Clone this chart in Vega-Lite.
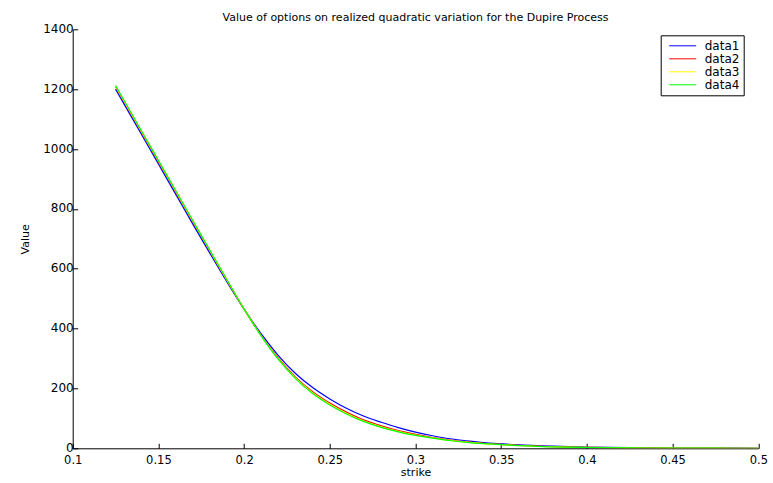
{
  "$schema": "https://vega.github.io/schema/vega-lite/v6.json",
  "width": 685.6,
  "height": 419,
  "autosize": {"type": "none"},
  "padding": {"left": 72.7, "top": 29.3, "right": 14.7, "bottom": 34.7},
  "background": "white",
  "title": {
    "text": "Value of options on realized quadratic variation for the Dupire Process",
    "font": "DejaVu Sans",
    "fontSize": 11,
    "fontWeight": "normal",
    "color": "black",
    "anchor": "middle",
    "frame": "group",
    "baseline": "bottom",
    "offset": 7,
    "dy": 19
  },
  "datasets": {
    "curves": [
      {"series": "data1", "strike": 0.125, "value": 1200},
      {"series": "data1", "strike": 0.13, "value": 1150},
      {"series": "data1", "strike": 0.14, "value": 1050},
      {"series": "data1", "strike": 0.15, "value": 950},
      {"series": "data1", "strike": 0.16, "value": 850},
      {"series": "data1", "strike": 0.17, "value": 750},
      {"series": "data1", "strike": 0.18, "value": 652},
      {"series": "data1", "strike": 0.19, "value": 556},
      {"series": "data1", "strike": 0.2, "value": 465},
      {"series": "data1", "strike": 0.21, "value": 382},
      {"series": "data1", "strike": 0.22, "value": 310},
      {"series": "data1", "strike": 0.23, "value": 250},
      {"series": "data1", "strike": 0.24, "value": 203},
      {"series": "data1", "strike": 0.25, "value": 165},
      {"series": "data1", "strike": 0.26, "value": 133},
      {"series": "data1", "strike": 0.27, "value": 107},
      {"series": "data1", "strike": 0.28, "value": 87},
      {"series": "data1", "strike": 0.29, "value": 69},
      {"series": "data1", "strike": 0.3, "value": 54},
      {"series": "data1", "strike": 0.31, "value": 42},
      {"series": "data1", "strike": 0.32, "value": 32},
      {"series": "data1", "strike": 0.33, "value": 25},
      {"series": "data1", "strike": 0.34, "value": 19},
      {"series": "data1", "strike": 0.35, "value": 15},
      {"series": "data1", "strike": 0.36, "value": 11.5},
      {"series": "data1", "strike": 0.38, "value": 7},
      {"series": "data1", "strike": 0.4, "value": 4},
      {"series": "data1", "strike": 0.425, "value": 2},
      {"series": "data1", "strike": 0.45, "value": 1},
      {"series": "data1", "strike": 0.475, "value": 0.5},
      {"series": "data1", "strike": 0.5, "value": 0.2},
      {"series": "data2", "strike": 0.125, "value": 1208},
      {"series": "data2", "strike": 0.13, "value": 1158},
      {"series": "data2", "strike": 0.14, "value": 1058},
      {"series": "data2", "strike": 0.15, "value": 958},
      {"series": "data2", "strike": 0.16, "value": 858},
      {"series": "data2", "strike": 0.17, "value": 758},
      {"series": "data2", "strike": 0.18, "value": 659},
      {"series": "data2", "strike": 0.19, "value": 561},
      {"series": "data2", "strike": 0.2, "value": 465},
      {"series": "data2", "strike": 0.21, "value": 377},
      {"series": "data2", "strike": 0.22, "value": 301},
      {"series": "data2", "strike": 0.23, "value": 238},
      {"series": "data2", "strike": 0.24, "value": 189},
      {"series": "data2", "strike": 0.25, "value": 151},
      {"series": "data2", "strike": 0.26, "value": 120},
      {"series": "data2", "strike": 0.27, "value": 94},
      {"series": "data2", "strike": 0.28, "value": 75},
      {"series": "data2", "strike": 0.29, "value": 59},
      {"series": "data2", "strike": 0.3, "value": 46.3},
      {"series": "data2", "strike": 0.31, "value": 36.1},
      {"series": "data2", "strike": 0.32, "value": 27.8},
      {"series": "data2", "strike": 0.33, "value": 21.5},
      {"series": "data2", "strike": 0.34, "value": 16.5},
      {"series": "data2", "strike": 0.35, "value": 12.9},
      {"series": "data2", "strike": 0.36, "value": 9.75},
      {"series": "data2", "strike": 0.38, "value": 5.6},
      {"series": "data2", "strike": 0.4, "value": 3.1},
      {"series": "data2", "strike": 0.425, "value": 1.5},
      {"series": "data2", "strike": 0.45, "value": 0.7},
      {"series": "data2", "strike": 0.475, "value": 0.35},
      {"series": "data2", "strike": 0.5, "value": 0.13},
      {"series": "data3", "strike": 0.125, "value": 1210.6},
      {"series": "data3", "strike": 0.13, "value": 1160.6},
      {"series": "data3", "strike": 0.14, "value": 1060.6},
      {"series": "data3", "strike": 0.15, "value": 960.6},
      {"series": "data3", "strike": 0.16, "value": 860.6},
      {"series": "data3", "strike": 0.17, "value": 760.6},
      {"series": "data3", "strike": 0.18, "value": 660.8},
      {"series": "data3", "strike": 0.19, "value": 562},
      {"series": "data3", "strike": 0.2, "value": 465},
      {"series": "data3", "strike": 0.21, "value": 376},
      {"series": "data3", "strike": 0.22, "value": 298.6},
      {"series": "data3", "strike": 0.23, "value": 235},
      {"series": "data3", "strike": 0.24, "value": 185.4},
      {"series": "data3", "strike": 0.25, "value": 147.4},
      {"series": "data3", "strike": 0.26, "value": 116.3},
      {"series": "data3", "strike": 0.27, "value": 91},
      {"series": "data3", "strike": 0.28, "value": 72},
      {"series": "data3", "strike": 0.29, "value": 56.7},
      {"series": "data3", "strike": 0.3, "value": 44.3},
      {"series": "data3", "strike": 0.31, "value": 34.8},
      {"series": "data3", "strike": 0.32, "value": 26.7},
      {"series": "data3", "strike": 0.33, "value": 20.6},
      {"series": "data3", "strike": 0.34, "value": 15.9},
      {"series": "data3", "strike": 0.35, "value": 12.4},
      {"series": "data3", "strike": 0.36, "value": 9.3},
      {"series": "data3", "strike": 0.38, "value": 5.2},
      {"series": "data3", "strike": 0.4, "value": 2.9},
      {"series": "data3", "strike": 0.425, "value": 1.4},
      {"series": "data3", "strike": 0.45, "value": 0.65},
      {"series": "data3", "strike": 0.475, "value": 0.32},
      {"series": "data3", "strike": 0.5, "value": 0.11},
      {"series": "data4", "strike": 0.125, "value": 1212},
      {"series": "data4", "strike": 0.13, "value": 1162},
      {"series": "data4", "strike": 0.14, "value": 1062},
      {"series": "data4", "strike": 0.15, "value": 962},
      {"series": "data4", "strike": 0.16, "value": 862},
      {"series": "data4", "strike": 0.17, "value": 762},
      {"series": "data4", "strike": 0.18, "value": 662},
      {"series": "data4", "strike": 0.19, "value": 563},
      {"series": "data4", "strike": 0.2, "value": 465},
      {"series": "data4", "strike": 0.21, "value": 375},
      {"series": "data4", "strike": 0.22, "value": 297},
      {"series": "data4", "strike": 0.23, "value": 233},
      {"series": "data4", "strike": 0.24, "value": 183},
      {"series": "data4", "strike": 0.25, "value": 145},
      {"series": "data4", "strike": 0.26, "value": 114},
      {"series": "data4", "strike": 0.27, "value": 89},
      {"series": "data4", "strike": 0.28, "value": 70},
      {"series": "data4", "strike": 0.29, "value": 55},
      {"series": "data4", "strike": 0.3, "value": 43},
      {"series": "data4", "strike": 0.31, "value": 34},
      {"series": "data4", "strike": 0.32, "value": 26},
      {"series": "data4", "strike": 0.33, "value": 20},
      {"series": "data4", "strike": 0.34, "value": 15.5},
      {"series": "data4", "strike": 0.35, "value": 12},
      {"series": "data4", "strike": 0.36, "value": 9},
      {"series": "data4", "strike": 0.38, "value": 5},
      {"series": "data4", "strike": 0.4, "value": 2.7},
      {"series": "data4", "strike": 0.425, "value": 1.3},
      {"series": "data4", "strike": 0.45, "value": 0.6},
      {"series": "data4", "strike": 0.475, "value": 0.3},
      {"series": "data4", "strike": 0.5, "value": 0.1}
    ]
  },
  "data": {"name": "curves"},
  "mark": {"type": "line", "strokeWidth": 1.2, "interpolate": "monotone", "clip": true},
  "encoding": {
    "x": {
      "field": "strike",
      "type": "quantitative",
      "scale": {"domain": [0.1, 0.5], "nice": false, "zero": false},
      "axis": {
        "title": "strike",
        "values": [0.1, 0.15, 0.2, 0.25, 0.3, 0.35, 0.4, 0.45, 0.5],
        "format": ".2~f",
        "grid": false,
        "tickSize": -5,
        "tickColor": "black",
        "domainColor": "black",
        "labelColor": "black",
        "labelFont": "DejaVu Sans",
        "labelFontSize": 11.5,
        "labelPadding": 11.5,
        "labelFlush": false,
        "titleFont": "DejaVu Sans",
        "titleFontSize": 11,
        "titleFontWeight": "normal",
        "titleColor": "black",
        "titlePadding": 0
      }
    },
    "y": {
      "field": "value",
      "type": "quantitative",
      "scale": {"domain": [0, 1400], "nice": false},
      "axis": {
        "title": "Value",
        "values": [0, 200, 400, 600, 800, 1000, 1200, 1400],
        "format": "d",
        "grid": false,
        "tickSize": -5,
        "tickColor": "black",
        "domainColor": "black",
        "labelColor": "black",
        "labelFont": "DejaVu Sans",
        "labelFontSize": 12,
        "labelPadding": 4.5,
        "labelOffset": -1,
        "labelFlush": false,
        "titleFont": "DejaVu Sans",
        "titleFontSize": 11,
        "titleFontWeight": "normal",
        "titleColor": "black",
        "titlePadding": 12
      }
    },
    "color": {
      "field": "series",
      "type": "nominal",
      "scale": {
        "domain": ["data1", "data2", "data3", "data4"],
        "range": ["#0000ff", "#ff0000", "#ffff00", "#00ff00"]
      },
      "legend": {
        "title": null,
        "orient": "none",
        "legendX": 588,
        "legendY": 6,
        "strokeColor": "black",
        "fillColor": "white",
        "padding": 4,
        "symbolType": "stroke",
        "symbolSize": 729,
        "symbolStrokeWidth": 1,
        "symbolOffset": 4,
        "clipHeight": 13,
        "rowPadding": 0,
        "labelOffset": 8,
        "labelFont": "DejaVu Sans",
        "labelFontSize": 12,
        "labelColor": "black"
      }
    }
  },
  "config": {
    "view": {"stroke": null},
    "axis": {"domainWidth": 1, "tickWidth": 1}
  }
}
